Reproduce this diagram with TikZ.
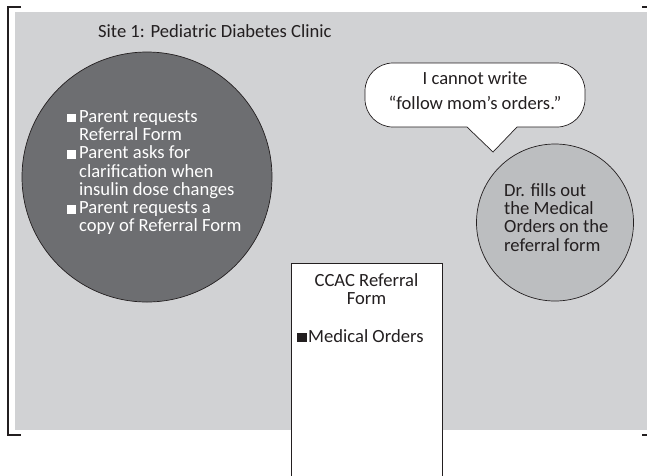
\documentclass[tikz,border=0pt]{standalone}
\usepackage{fontspec}
\setmainfont{Carlito}
\usetikzlibrary{shapes.geometric}
\definecolor{bggray}{HTML}{D1D2D4}
\definecolor{darkgray}{HTML}{6D6E71}
\definecolor{lightgray}{HTML}{BCBEC0}
\definecolor{ink}{HTML}{231F20}
\newcommand{\wbul}{\makebox[12pt][l]{\textcolor{white}{\rule{8.5pt}{8.5pt}}}}
\newcommand{\kbul}{\makebox[11pt][l]{\textcolor{ink}{\rule{9.5pt}{9.5pt}}}}
\newcommand{\ind}{\hspace*{12pt}}
\tikzset{
  bracket/.style={draw=ink, line width=2pt},
  blob/.style={circle, draw=ink, line width=0.7pt, inner sep=0pt},
  txt/.style={inner sep=0pt, font=\fontsize{18.6}{18.3}\selectfont},
}
\begin{document}
\begin{tikzpicture}[x=1pt,y=-1pt]
\useasboundingbox (0,0) rectangle (647,475);
% background panel
\fill[bggray] (15,12) rectangle (647,430);
% brackets
\draw[bracket] (21,7) -- (8,7) -- (8,435) -- (21,435);
\draw[bracket] (642,7) -- (647,7);
\draw[bracket] (642,435) -- (647,435);
% title
\node[txt, anchor=base west, text=ink] (title) at (98,37) {Site 1: Pediatric Diabetes Clinic};
% dark circle
\node[blob, fill=darkgray, minimum size=250pt] (parent) at (147,177) {};
\node[txt, anchor=north west, align=left, text=white] (parenttxt) at (67,110)
  {\wbul Parent requests\\ \ind Referral Form\\ \wbul Parent asks for\\ \ind clarification when\\ \ind insulin dose changes\\ \wbul Parent requests a\\ \ind copy of Referral Form};
% speech bubble
\draw[draw=ink, fill=white, line width=0.7pt]
  (467,127) -- (493,152) -- (517,127)
  [rounded corners=28pt] -- (585,127) -- (585,63) -- (365,63) -- (365,127)
  [sharp corners] -- cycle;
\node[txt, align=center, text=ink, anchor=north, font=\fontsize{18.6}{25}\selectfont] (bubble) at (475,71) {I cannot write\\ “follow mom’s orders.”};
% light circle
\node[blob, fill=lightgray, minimum size=157pt] (doctor) at (555,222.5) {};
\node[txt, anchor=north west, align=left, text=ink] (doctortxt) at (504,183)
  {Dr. fills out\\ the Medical\\ Orders on the\\ referral form};
% form
\draw[draw=ink, fill=white, line width=0.7pt] (291,480) -- (291,263) -- (442,263) -- (442,480);
\node[txt, align=center, text=ink, anchor=north] (formtitle) at (366.5,273) {CCAC Referral\\ Form};
\node[txt, anchor=base west, text=ink] (orders) at (297,342) {\kbul Medical Orders};
\end{tikzpicture}
\end{document}
